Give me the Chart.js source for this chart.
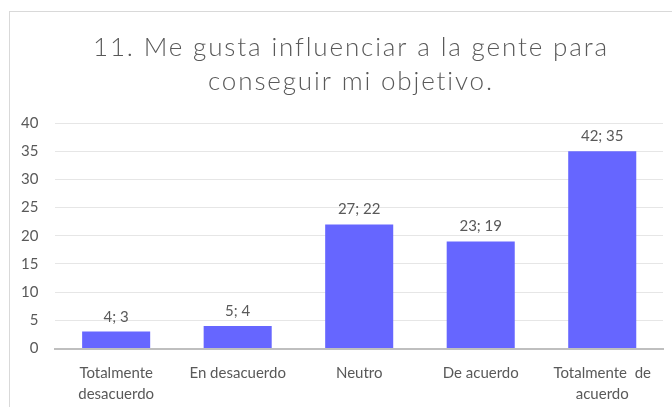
<!DOCTYPE html>
<html>
<head>
<meta charset="utf-8">
<script src="https://cdn.jsdelivr.net/npm/chart.js@4/dist/chart.umd.min.js"></script>
<style>
  html, body { margin: 0; padding: 0; background: #fff; overflow: hidden; }
  #wrap { position: relative; width: 672px; height: 407px; }
  #frame { position: absolute; left: 9px; top: 11px; width: 700px; height: 420px; border: 1px solid #d9d9d9; box-sizing: border-box; }
  canvas { position: absolute; left: 0; top: 0; }
</style>
</head>
<body>
<div id="wrap">
  <div id="frame"></div>
  <canvas id="c" width="672" height="407"></canvas>
</div>
<script>
const categories = [["Totalmente", "desacuerdo"], "En desacuerdo", "Neutro", "De acuerdo", ["Totalmente  de", "acuerdo"]];
const counts = [4, 5, 27, 23, 42];
const values = [3, 4, 22, 19, 35];
const yTicks = [0, 5, 10, 15, 20, 25, 30, 35, 40];
const titleLines = ["11. Me gusta influenciar a la gente para", "conseguir mi objetivo."];

const FONT = "Lato, 'Open Sans', sans-serif";
const TXT = "#595959";

const labelPlugin = {
  id: "barLabels",
  afterDatasetsDraw(chart) {
    const ctx = chart.ctx;
    const meta = chart.getDatasetMeta(0);
    ctx.save();
    ctx.font = "15px " + FONT;
    ctx.fillStyle = TXT;
    ctx.textAlign = "center";
    ctx.textBaseline = "alphabetic";
    meta.data.forEach((bar, i) => {
      ctx.fillText(counts[i] + "; " + values[i], bar.x, bar.y - 10);
    });
    ctx.restore();
  }
};

const titlePlugin = {
  id: "spacedTitle",
  afterDraw(chart) {
    const ctx = chart.ctx;
    ctx.save();
    ctx.font = "300 26px " + FONT;
    ctx.fillStyle = TXT;
    ctx.textAlign = "left";
    ctx.textBaseline = "alphabetic";
    const cx = 350;
    const baselines = [56, 90];
    ctx.letterSpacing = "0px";
    const w0 = ctx.measureText(titleLines[0]).width;
    const sp = Math.max(0, (516 - w0) / titleLines[0].length);
    ctx.letterSpacing = sp + "px";
    titleLines.forEach((line, i) => {
      const w = ctx.measureText(line).width - sp;
      ctx.fillText(line, cx - w / 2, baselines[i]);
    });
    ctx.restore();
  }
};

new Chart(document.getElementById("c"), {
  type: "bar",
  data: {
    labels: categories,
    datasets: [{
      data: values,
      backgroundColor: "#6666ff",
      borderWidth: 0,
      barPercentage: 0.56,
      categoryPercentage: 1.0
    }]
  },
  options: {
    responsive: false,
    animation: false,
    devicePixelRatio: 1,
    layout: { padding: { left: 4, right: 9, top: 123, bottom: -12 } },
    plugins: {
      legend: { display: false },
      tooltip: { enabled: false },
      title: { display: false }
    },
    scales: {
      x: {
        grid: { display: false, drawTicks: false },
        border: { display: true, color: "#bfbfbf", width: 2 },
        ticks: {
          color: TXT,
          font: { family: FONT, size: 15, lineHeight: 1.35 },
          maxRotation: 0,
          autoSkip: false,
          padding: 15
        }
      },
      y: {
        min: 0,
        max: 40,
        afterBuildTicks(scale) { scale.ticks = yTicks.map(v => ({ value: v })); },
        grid: { color: "#e6e6e6", lineWidth: 1, drawTicks: false },
        border: { display: false },
        ticks: {
          color: TXT,
          font: { family: FONT, size: 15 },
          padding: 17
        }
      }
    }
  },
  plugins: [labelPlugin, titlePlugin]
});
</script>
</body>
</html>
